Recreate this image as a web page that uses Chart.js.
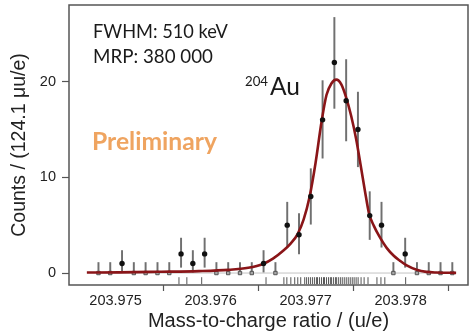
<!DOCTYPE html>
<html><head><meta charset="utf-8">
<script src="https://cdn.jsdelivr.net/npm/chart.js@4.4.1/dist/chart.umd.min.js"></script>
<style>html,body{margin:0;padding:0;background:#fff;}#wrap{width:473px;height:335px;position:relative;}</style>
</head><body><div id="wrap"><canvas id="c" width="473" height="335"></canvas></div>
<script>
// ---- data ----
const binCenters = [203.974820,203.974944,203.975068,203.975192,203.975316,203.975441,203.975565,203.975689,203.975813,203.975937,
  203.976061,203.976185,203.976309,203.976433,203.976557,203.976682,203.976806,203.976930,203.977054,203.977178,
  203.977302,203.977426,203.977550,203.977674,203.977798,203.977923,203.978047,203.978171,203.978295,203.978419,203.978543];
const counts  = [0,0,1,0,0,0,0,2,1,2, 0,0,0,0,1,0,5,4,8,16, 22,18,15,6,5,0,2,0,0,0,0];
const errLow  = [0,0,0.9,0,0,0,0,1.4,0.9,1.4, 0,0,0,0,0.9,0,2.3,2,2.9,4, 4.8,4.2,3.9,2.5,2.3,0,1.4,0,0,0,0];
const errHigh = [1.1,1.1,1.35,1.1,1.1,1.1,1.1,1.65,1.35,1.65, 1.1,1.1,1.1,1.1,1.35,1.1,2.4,2.2,2.9,4.1, 4.7,4.3,3.9,2.5,2.4,1.1,1.65,1.1,1.1,1.1,1.1];
const fitMass = [203.974698,203.975042,203.975458,203.975875,203.976188,203.976396,203.976552,203.976656,203.976760,203.976844,
  203.976917,203.976979,203.977042,203.977104,203.977167,203.977219,203.977271,203.977323,203.977375,203.977427,
  203.977479,203.977531,203.977583,203.977625,203.977667,203.977719,203.977771,203.977854,203.977927,203.977990,
  203.978063,203.978167,203.978271,203.978375,203.978583];
const fitCounts = [0.05,0.07,0.13,0.2,0.33,0.55,0.95,1.5,2.3,3.1,
  4.1,5.6,8.0,11.5,15.8,18.6,19.8,20.2,19.7,18.3,
  16.4,14.0,11.0,8.5,6.2,4.9,3.9,2.6,1.8,1.3,
  0.8,0.35,0.12,0.05,0.02];
const rugMass = [203.975667,203.975750,203.975906,203.976583,203.976771,203.976802,203.976844,203.976885,203.976917,203.976948,
  203.976990,203.977010,203.977031,203.977052,203.977073,203.977094,203.977115,203.977125,203.977146,203.977167,
  203.977188,203.977198,203.977219,203.977240,203.977260,203.977271,203.977292,203.977313,203.977323,203.977344,
  203.977365,203.977385,203.977406,203.977427,203.977448,203.977469,203.977490,203.977510,203.977531,203.977552,
  203.977583,203.977615,203.977656,203.977750,203.977792,203.977833,203.978052];
const xTicks = [203.975, 203.976, 203.977, 203.978];
const yTicks = [0, 10, 20];
const xTitle = 'Mass-to-charge ratio / (u/e)';
const yTitle = 'Counts / (124.1 \u03bcu/e)';

// ---- build ----
const errData = binCenters.map((x, i) => ({x: x, y: [counts[i] - errLow[i], counts[i] + errHigh[i]]}));
const zeroPts = binCenters.map((x, i) => ({x: x, y: counts[i]})).filter(p => p.y === 0);
const hitPts = binCenters.map((x, i) => ({x: x, y: counts[i]})).filter(p => p.y > 0);
const fitData = fitMass.map((x, i) => ({x: x, y: fitCounts[i]}));
const rugData = rugMass.map(x => ({x: x, y: -0.8}));
const baseData = [{x: binCenters[0], y: 0}, {x: binCenters[binCenters.length - 1], y: 0}];

const AX = '"Liberation Sans", Arial, sans-serif';
const CAL = 'Lato, "Open Sans", sans-serif';

const framePlugin = {
  id: 'frame',
  afterDatasetsDraw(chart) {
    const {ctx, chartArea: a} = chart;
    ctx.save();
    ctx.strokeStyle = '#555';
    ctx.lineWidth = 1.5;
    ctx.strokeRect(a.left, a.top, a.right - a.left, a.bottom - a.top);
    ctx.restore();
  }
};

function fitText(ctx, text, x, y, targetW, weight, family, color) {
  ctx.font = weight + ' 20px ' + family;
  const w = ctx.measureText(text).width;
  const size = 20 * targetW / w;
  ctx.font = weight + ' ' + size.toFixed(2) + 'px ' + family;
  ctx.fillStyle = color;
  ctx.textBaseline = 'alphabetic';
  ctx.textAlign = 'left';
  ctx.fillText(text, x, y);
}

const textPlugin = {
  id: 'notes',
  afterDraw(chart) {
    const ctx = chart.ctx;
    ctx.save();
    fitText(ctx, 'FWHM: 510 keV', 93, 37.5, 135, 'normal', CAL, '#1a1a1a');
    fitText(ctx, 'MRP: 380 000', 93, 63, 120, 'normal', CAL, '#1a1a1a');
    fitText(ctx, '204', 245, 85.5, 23, 'normal', CAL, '#1a1a1a');
    fitText(ctx, 'Au', 270, 95, 30, 'normal', CAL, '#1a1a1a');
    fitText(ctx, 'Preliminary', 92, 150, 125, 'bold', CAL, '#EFA460');
    ctx.restore();
  }
};

function noPad(s) { s.paddingTop = 0; s.paddingBottom = 0; s.paddingLeft = 0; s.paddingRight = 0; }

new Chart(document.getElementById('c'), {
  type: 'scatter',
  data: {
    datasets: [
      {type: 'line', data: baseData, borderColor: '#c4c4c4', borderWidth: 1, pointRadius: 0, order: 7},
      {type: 'bar', data: errData, backgroundColor: '#707070', barThickness: 1.3, grouped: false, order: 6},
      {type: 'scatter', data: zeroPts, pointStyle: 'rect', pointRadius: 2.4, backgroundColor: '#a8a8a8', borderColor: '#555', borderWidth: 1, order: 5},
      {type: 'line', data: fitData, borderColor: '#8a1518', borderWidth: 2.6, pointRadius: 0, cubicInterpolationMode: 'monotone', order: 3},
      {type: 'scatter', data: hitPts, pointStyle: 'circle', pointRadius: 2.7, backgroundColor: '#111', borderColor: '#111', borderWidth: 0, order: 2},
      {type: 'scatter', data: rugData, pointStyle: 'line', rotation: 90, pointRadius: 3.5, borderColor: '#555', borderWidth: 1, order: 1}
    ]
  },
  options: {
    responsive: false,
    animation: false,
    devicePixelRatio: 1,
    layout: {padding: {left: 0, right: 1, top: 5, bottom: 0}},
    plugins: {legend: {display: false}, tooltip: {enabled: false}},
    scales: {
      x: {
        type: 'linear', min: 203.97451, max: 203.978708, offset: false,
        afterBuildTicks: s => { s.ticks = xTicks.map(v => ({value: v})); },
        afterFit: s => { s.height = 50; noPad(s); },
        ticks: {callback: v => v.toFixed(3), font: {family: AX, size: 14.5}, color: '#222', padding: 1, maxRotation: 0, autoSkip: false},
        grid: {drawOnChartArea: false, drawTicks: true, tickLength: 6, tickColor: '#555', tickWidth: 1.2},
        border: {display: false},
        title: {display: true, text: xTitle, font: {family: AX, size: 20}, color: '#222', padding: {top: 0, bottom: 2}}
      },
      y: {
        type: 'linear', min: -1.25, max: 28,
        afterBuildTicks: s => { s.ticks = yTicks.map(v => ({value: v})); },
        afterFit: s => { s.width = 69; noPad(s); },
        ticks: {font: {family: AX, size: 14.5}, color: '#222', padding: 6},
        grid: {drawOnChartArea: false, drawTicks: true, tickLength: 7, tickColor: '#555', tickWidth: 1.2},
        border: {display: false},
        title: {display: true, text: yTitle, font: {family: AX, size: 19.5}, color: '#222', padding: {top: 8, bottom: 0}}
      }
    }
  },
  plugins: [framePlugin, textPlugin]
});
</script></body></html>
